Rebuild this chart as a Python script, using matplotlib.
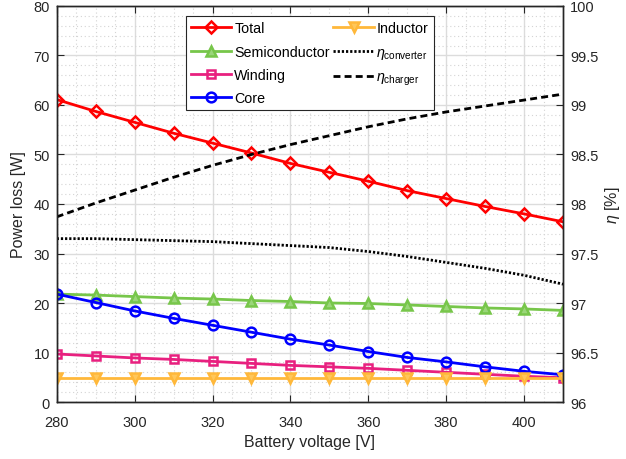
import numpy as np
import matplotlib
matplotlib.use("Agg")
import matplotlib.pyplot as plt
from matplotlib.ticker import MultipleLocator, FuncFormatter

plt.rcParams['font.family'] = ['Liberation Sans', 'DejaVu Sans']
plt.rcParams['mathtext.fontset'] = 'custom'
plt.rcParams['mathtext.rm'] = 'Liberation Sans'
plt.rcParams['mathtext.it'] = 'Liberation Sans:italic'

# battery voltage sweep [V]
voltage = [280, 290, 300, 310, 320, 330, 340, 350, 360, 370, 380, 390, 400, 410]

# loss breakdown [W]
total = [61.1, 58.7, 56.5, 54.3, 52.3, 50.3, 48.2, 46.4, 44.6, 42.7, 41.1, 39.5, 38.0, 36.4]
semiconductor = [21.8, 21.6, 21.3, 21.0, 20.8, 20.5, 20.3, 20.0, 19.9, 19.6, 19.3, 19.0, 18.8, 18.5]
winding = [9.7, 9.3, 8.9, 8.6, 8.2, 7.8, 7.4, 7.1, 6.8, 6.4, 6.0, 5.6, 5.2, 4.9]
core = [21.8, 20.1, 18.4, 16.9, 15.5, 14.1, 12.7, 11.5, 10.2, 9.0, 8.1, 7.1, 6.2, 5.5]
inductor = [4.8, 4.8, 4.8, 4.8, 4.8, 4.8, 4.8, 4.8, 4.8, 4.8, 4.8, 4.8, 4.8, 4.8]

# efficiency [%]
eta_converter = [97.65, 97.65, 97.64, 97.63, 97.62, 97.60, 97.58, 97.56, 97.52, 97.47, 97.41, 97.35, 97.28, 97.19]
eta_charger = [97.87, 98.01, 98.14, 98.27, 98.39, 98.50, 98.60, 98.69, 98.78, 98.86, 98.93, 98.99, 99.05, 99.11]

txt = '#262626'

fig = plt.figure(figsize=(6.26, 4.6), dpi=100)
ax = fig.add_axes([0.0906, 0.1239, 0.8088, 0.8609])
ax2 = ax.twinx()

lw = 2
h1, = ax.plot(voltage, total, color='#ff0000', lw=lw, marker='D', ms=6.5, mfc='none', mew=1.8, label='Total')
h2, = ax.plot(voltage, semiconductor, color='#77c64a', lw=lw, marker='^', ms=7.5, mfc='#9ad67a', mew=1.8, label='Semiconductor')
h3, = ax.plot(voltage, winding, color='#e8207f', lw=lw, marker='s', ms=5.5, mfc='none', mew=1.8, label='Winding')
h4, = ax.plot(voltage, core, color='#0000ff', lw=lw, marker='o', ms=7, mfc='none', mew=1.8, label='Core')
h5, = ax.plot(voltage, inductor, color='#ffb83a', lw=lw, marker='v', ms=7.5, mfc='#ffc75a', mew=1.8, label='Inductor')

h6, = ax2.plot(voltage, eta_converter, color='black', lw=lw, dashes=(0.8, 0.7), label=r'$\eta_{\mathrm{converter}}$')
h7, = ax2.plot(voltage, eta_charger, color='black', lw=lw, dashes=(2.5, 1.5), label=r'$\eta_{\mathrm{charger}}$')

for a in (ax, ax2):
    for sp in a.spines.values():
        sp.set_color(txt)
        sp.set_linewidth(1.0)
    a.set_xlim(280, 410)

ax.set_ylim(0, 80)
ax2.set_ylim(96, 100)

ax.xaxis.set_major_locator(MultipleLocator(20))
ax.xaxis.set_minor_locator(MultipleLocator(5))
ax.yaxis.set_major_locator(MultipleLocator(10))
ax.yaxis.set_minor_locator(MultipleLocator(2))
ax2.yaxis.set_major_locator(MultipleLocator(0.5))
ax2.yaxis.set_major_formatter(FuncFormatter(lambda v, p: '%g' % v))

ax.tick_params(which='major', direction='in', length=5, width=0.8, color=txt,
               labelsize=10.5, labelcolor=txt, top=True, pad=5)
ax.tick_params(axis='x', pad=9)
ax.tick_params(which='minor', length=0)
ax2.tick_params(which='major', direction='in', length=5, width=0.8, color=txt,
                labelsize=10.5, labelcolor=txt, pad=5)
ax2.tick_params(which='minor', length=0)

ax.grid(which='major', color='#dcdcdc', lw=1.0, ls='-')
ax.grid(which='minor', color='#d4d4d4', lw=0.8, ls=(0, (1, 2.5)))
ax.set_axisbelow(True)

ax.set_xlabel('Battery voltage [V]', fontsize=11.5, color=txt, labelpad=4)
ax.set_ylabel('Power loss [W]', fontsize=11.5, color=txt, labelpad=5)
ax2.set_ylabel(r'$\eta$ [%]', fontsize=11.5, color=txt, labelpad=3)

leg = ax2.legend(handles=[h1, h2, h3, h4, h5, h6, h7], ncol=2, loc='upper left',
                 bbox_to_anchor=(0.297, 0.963), bbox_transform=fig.transFigure,
                 fontsize=10.3, frameon=True, fancybox=False, framealpha=1,
                 edgecolor=txt, handlelength=2.8, handletextpad=0.2,
                 columnspacing=0.25, labelspacing=0.64, borderpad=0.38,
                 borderaxespad=0)
leg.get_frame().set_linewidth(0.8)

fig.savefig('out.png', dpi=100)
